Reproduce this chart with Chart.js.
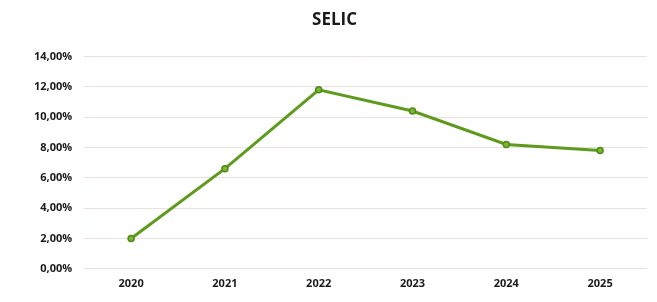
<!DOCTYPE html>
<html>
<head>
<meta charset="utf-8">
<script src="https://cdn.jsdelivr.net/npm/chart.js@4"></script>
<style>
  html, body { margin: 0; padding: 0; background: #ffffff; }
  #wrap { width: 657px; height: 302px; }
</style>
</head>
<body>
<div id="wrap"><canvas id="selicChart"></canvas></div>
<script>
const anos = ['2020', '2021', '2022', '2023', '2024', '2025'];
const selic = [2.0, 6.6, 11.8, 10.4, 8.2, 7.8];
const yMin = 0;
const yMax = 14;
const yStep = 2;

const ctx = document.getElementById('selicChart').getContext('2d');

const data = {
    labels: anos,
    datasets: [{
        label: 'SELIC',
        data: selic,
        borderColor: '#5e9b1d',
        backgroundColor: '#6aa824',
        borderWidth: 3,
        pointRadius: 3,
        pointBorderColor: '#4f8a16',
        pointBackgroundColor: '#7ab833',
        pointBorderWidth: 1.5,
        tension: 0
    }]
};

const config = {
    type: 'line',
    data: data,
    options: {
        responsive: true,
        maintainAspectRatio: false,
        animation: false,
        layout: {
            padding: { left: 22, right: 10, top: 6, bottom: 12 }
        },
        scales: {
            y: {
                min: yMin,
                max: yMax,
                border: { display: false },
                grid: { color: '#ecdfe1', lineWidth: 1, drawTicks: false },
                ticks: {
                    stepSize: yStep,
                    padding: 12,
                    color: '#1a1a1a',
                    font: { family: 'Open Sans', size: 11, weight: 'bold' },
                    callback: (v) => v.toFixed(2).replace('.', ',') + '%'
                }
            },
            x: {
                offset: true,
                border: { display: false },
                grid: { display: false },
                ticks: {
                    padding: 0,
                    color: '#1a1a1a',
                    font: { family: 'Open Sans', size: 11, weight: 'bold' }
                }
            }
        },
        plugins: {
            title: {
                display: true,
                text: 'SELIC',
                color: '#1a1a1a',
                padding: { top: 4, bottom: 26 },
                font: { family: 'Open Sans', size: 17, weight: 'bold' }
            },
            legend: { display: false },
            tooltip: { enabled: false }
        }
    }
};

const selicChart = new Chart(ctx, config);
</script>
</body>
</html>
